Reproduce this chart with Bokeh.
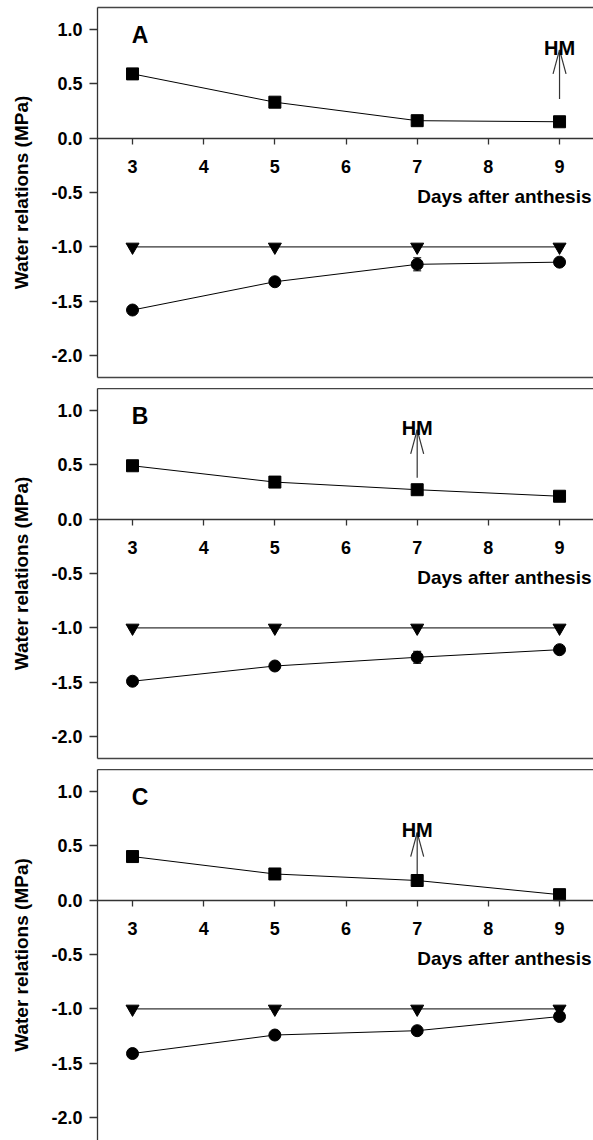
from bokeh.plotting import figure
from bokeh.models import (LinearAxis, FixedTicker, PrintfTickFormatter, Range1d,
                          Label, Whisker, ColumnDataSource, TeeHead)
from bokeh.layouts import column
from bokeh.embed import file_html
from bokeh.resources import INLINE

# ---------------- data ----------------
days = [3, 5, 7, 9]
panel_letters = ["A", "B", "C"]

square_A = [0.59, 0.33, 0.16, 0.15]
triangle_A = [-1.0, -1.0, -1.0, -1.0]
circle_A = [-1.58, -1.32, -1.16, -1.14]
circle_err_A = [0.02, 0.03, 0.06, 0.02]

square_B = [0.49, 0.34, 0.27, 0.21]
triangle_B = [-1.0, -1.0, -1.0, -1.0]
circle_B = [-1.49, -1.35, -1.27, -1.20]
circle_err_B = [0.03, 0.02, 0.055, 0.02]

square_C = [0.40, 0.24, 0.18, 0.05]
triangle_C = [-1.0, -1.0, -1.0, -1.0]
circle_C = [-1.41, -1.24, -1.20, -1.07]
circle_err_C = [0.02, 0.02, 0.02, 0.03]

hm_day = [9, 7, 7]
hm_start = [0.36, 0.38, 0.24]
hm_tip = [0.81, 0.82, 0.62]

x_ticks = [3, 4, 5, 6, 7, 8, 9]
y_ticks = [-2.0, -1.5, -1.0, -0.5, 0.0, 0.5, 1.0]
x_label = "Days after anthesis"
y_label = "Water relations (MPa)"

# ---------------- layout / style ----------------
FONT = "Liberation Sans"
LEFT = 97
FRAME_W = 496
FRAME_H = 370
GAP = 11
X0 = 2.508
PPX = 71.17
X1 = X0 + FRAME_W / PPX
Y0, Y1 = -2.2, 1.2
PPY = FRAME_H / (Y1 - Y0)
AX = "#333333"


def border_axis():
    return LinearAxis(ticker=FixedTicker(ticks=[]), major_tick_out=0, major_tick_in=0,
                      minor_tick_out=0, minor_tick_in=0, major_label_standoff=0,
                      major_label_text_font_size="0px", axis_line_color="#444444",
                      axis_line_width=1.5)


def make_panel(idx, sq, tri, cir, cerr, top, frame_h, bottom):
    ystart = Y1 - frame_h / PPY
    p = figure(width=LEFT + FRAME_W, height=frame_h + top + bottom,
               x_range=Range1d(X0, X1), y_range=Range1d(ystart, Y1),
               output_backend="svg", toolbar_location=None,
               x_axis_location=None, y_axis_location="left",
               min_border_left=LEFT, min_border_right=0,
               min_border_top=top, min_border_bottom=bottom)
    p.grid.visible = False
    p.outline_line_color = None
    p.background_fill_color = "white"
    p.border_fill_color = "white"

    # y axis
    ya = p.yaxis[0]
    ya.ticker = FixedTicker(ticks=y_ticks)
    ya.formatter = PrintfTickFormatter(format="%.1f")
    ya.major_tick_out = 8
    ya.major_tick_in = 0
    ya.minor_tick_out = 0
    ya.minor_tick_in = 0
    ya.major_label_standoff = 7
    ya.major_label_text_font = FONT
    ya.major_label_text_font_style = "bold"
    ya.major_label_text_font_size = "18px"
    ya.major_label_text_color = "black"
    ya.axis_line_color = AX
    ya.axis_line_width = 1.3
    ya.major_tick_line_color = AX
    ya.major_tick_line_width = 1.3
    ya.axis_label = y_label
    ya.axis_label_text_font = FONT
    ya.axis_label_text_font_style = "bold"
    ya.axis_label_text_font_size = "19px"
    ya.axis_label_text_color = "black"
    ya.axis_label_standoff = 16

    # x axis at y = 0
    xa = LinearAxis(fixed_location=0, ticker=FixedTicker(ticks=x_ticks),
                    formatter=PrintfTickFormatter(format="%d"),
                    major_tick_in=0, major_tick_out=6, minor_tick_in=0, minor_tick_out=0,
                    major_label_standoff=16, major_label_text_font=FONT,
                    major_label_text_font_style="bold", major_label_text_font_size="18px",
                    major_label_text_color="black",
                    axis_line_color=AX, axis_line_width=1.3,
                    major_tick_line_color=AX, major_tick_line_width=1.3)
    p.add_layout(xa, "below")
    if bottom > 0:
        p.add_layout(border_axis(), "below")
    p.add_layout(border_axis(), "above")

    # error bars
    src = ColumnDataSource(data=dict(base=days,
                                     lower=[c - e for c, e in zip(cir, cerr)],
                                     upper=[c + e for c, e in zip(cir, cerr)]))
    p.add_layout(Whisker(base="base", lower="lower", upper="upper", source=src,
                         line_color="black", line_width=1,
                         upper_head=TeeHead(size=8, line_color="black"),
                         lower_head=TeeHead(size=8, line_color="black")))

    # series
    p.line(days, sq, line_color="black", line_width=1)
    p.scatter(days, sq, marker="square", size=12, color="black")
    p.line(days, tri, line_color="black", line_width=1)
    p.scatter(days, tri, marker="inverted_triangle", size=13, color="black")
    p.line(days, cir, line_color="black", line_width=1)
    p.scatter(days, cir, marker="circle", size=12, color="black")

    # HM arrow
    d, s, t = hm_day[idx], hm_start[idx], hm_tip[idx]
    dx = 6.5 / PPX
    dy = 24 / PPY
    p.segment(x0=[d, d, d], y0=[s, t, t], x1=[d, d - dx, d + dx], y1=[t, t - dy, t - dy],
              line_color=AX, line_width=1.2)
    p.add_layout(Label(x=d, y=t + 0.02, text="HM", text_align="center",
                       text_baseline="alphabetic", text_font=FONT,
                       text_font_style="bold", text_font_size="20px", text_color="black"))

    # panel letter
    p.add_layout(Label(x=2.99, y=0.95, text=panel_letters[idx], text_align="left",
                       text_baseline="middle", text_font=FONT, text_font_style="bold",
                       text_font_size="23px", text_color="black"))
    # x axis title
    p.add_layout(Label(x=X1 - 2 / PPX, y=-0.54, text=x_label, text_align="right",
                       text_baseline="middle", text_font=FONT, text_font_style="bold",
                       text_font_size="19px", text_color="black"))
    return p


pA = make_panel(0, square_A, triangle_A, circle_A, circle_err_A, top=7, frame_h=FRAME_H, bottom=GAP)
pB = make_panel(1, square_B, triangle_B, circle_B, circle_err_B, top=0, frame_h=FRAME_H, bottom=GAP)
pC = make_panel(2, square_C, triangle_C, circle_C, circle_err_C, top=0, frame_h=371, bottom=0)

layout = column(pA, pB, pC, spacing=0)
open("out.html", "w").write(file_html(layout, INLINE))
